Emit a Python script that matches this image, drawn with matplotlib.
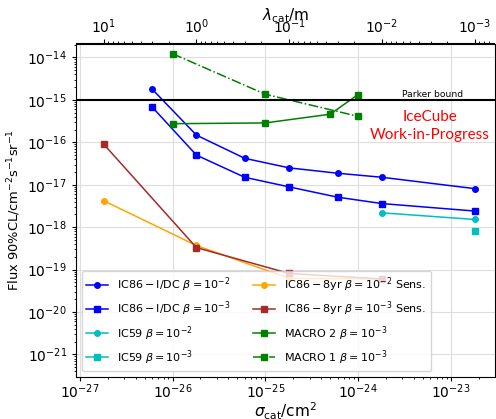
import numpy as np
import matplotlib
matplotlib.use("Agg")
import matplotlib.pyplot as plt
from matplotlib.ticker import LogLocator, NullFormatter

# cross sections (cm^2) of the points
sig_ic = [6.0e-27, 1.81e-26, 6.0e-26, 1.81e-25, 6.0e-25, 1.81e-24, 1.81e-23]
ic86_b2 = [1.82e-15, 1.48e-16, 4.2e-17, 2.5e-17, 1.87e-17, 1.5e-17, 8.1e-18]
ic86_b3 = [6.9e-16, 5.0e-17, 1.5e-17, 8.9e-18, 5.1e-18, 3.6e-18, 2.4e-18]

sig_ic59 = [1.81e-24, 1.81e-23]
ic59_b2 = [2.18e-18, 1.52e-18]
sig_ic59_b3 = [1.81e-23]
ic59_b3 = [8.1e-19]

sig_8yr = [1.81e-27, 1.81e-26, 1.81e-25, 1.81e-24]
sens_b2 = [4.2e-18, 3.7e-19, 6.2e-20, 6.0e-20]
sens_b3 = [9.1e-17, 3.3e-19, 8.1e-20, 6.0e-20]

sig_macro2 = [1e-26, 1e-25, 5e-25, 1e-24]
macro2 = [2.75e-16, 2.87e-16, 4.6e-16, 1.34e-15]
sig_macro1 = [1e-26, 1e-25, 1e-24]
macro1 = [1.23e-14, 1.36e-15, 4.1e-16]

parker = 1e-15
n_ice = 0.917 * 6.022e23  # nucleons / cm^3


def sig2lam(s):
    s = np.asarray(s, dtype=float)
    return 1.0 / (n_ice * s) / 100.0


def lam2sig(l):
    l = np.asarray(l, dtype=float)
    return 1.0 / (n_ice * l * 100.0)


fig = plt.figure(figsize=(4.96, 4.19), dpi=100)
ax = fig.add_axes([76/496, 1-376.5/419, (494.5-76)/496, (376.5-43.5)/419])

ax.plot(sig_ic, ic86_b2, 'o-', color='b', ms=4, lw=1.1, label=r'$\mathrm{IC86-I/DC}\ \beta=10^{-2}$')
ax.plot(sig_ic, ic86_b3, 's-', color='b', ms=4, lw=1.1, label=r'$\mathrm{IC86-I/DC}\ \beta=10^{-3}$')
ax.plot(sig_ic59, ic59_b2, 'o-', color='c', ms=4, lw=1.1, label=r'IC59 $\beta=10^{-2}$')
ax.plot(sig_ic59_b3, ic59_b3, 's-', color='c', ms=4, lw=1.1, label=r'IC59 $\beta=10^{-3}$')
ax.plot(sig_8yr, sens_b2, 'o-', color='orange', ms=4, lw=1.1, label=r'$\mathrm{IC86-8yr}\ \beta=10^{-2}$ Sens.')
ax.plot(sig_8yr, sens_b3, 's-', color='brown', ms=4, lw=1.1, label=r'$\mathrm{IC86-8yr}\ \beta=10^{-3}$ Sens.')
ax.plot(sig_macro2, macro2, 's-', color='g', ms=4, lw=1.1, label=r'MACRO 2 $\beta=10^{-3}$')
ax.plot(sig_macro1, macro1, 's-.', color='g', ms=4, lw=1.1, label=r'MACRO 1 $\beta=10^{-3}$')

ax.axhline(parker, color='k', lw=1.5)
ax.text(6.35e-24, 1.08e-15, 'Parker bound', fontsize=6.6, ha='center', va='bottom')
ax.text(5.9e-24, 2.45e-16, 'IceCube\nWork-in-Progress', color='red', fontsize=11,
        family='Lato', ha='center', va='center', linespacing=1.4)

ax.set_xscale('log')
ax.set_yscale('log')
ax.set_xlim(10**-27.04, 10**-22.53)
ax.set_ylim(10**-21.52, 10**-13.67)
ax.yaxis.set_major_locator(LogLocator(base=10, numticks=30))
ax.yaxis.set_minor_locator(LogLocator(base=10, subs=np.arange(2, 10), numticks=100))
ax.yaxis.set_minor_formatter(NullFormatter())
ax.grid(True, which='major', color='#dddddd', lw=0.8)
ax.tick_params(which='major', length=3, labelsize=10)
ax.tick_params(which='minor', length=1.5)
ax.tick_params(axis='x', pad=1)
ax.tick_params(axis='y', pad=3.5)
ax.set_xlabel(r'$\sigma_{\rm cat}$/cm$^2$', fontsize=11, labelpad=0)
ax.set_ylabel(r'Flux 90%CL/cm$^{-2}$s$^{-1}$sr$^{-1}$', fontsize=9.4, labelpad=3)

top = ax.secondary_xaxis('top', functions=(sig2lam, lam2sig))
top.tick_params(which='major', length=3, pad=2.5, labelsize=10)
top.tick_params(which='minor', length=1.5)
top.set_xlabel(r'$\lambda_{\rm cat}$/m', fontsize=11, labelpad=-2.5)

ax.legend(ncol=2, loc='lower left', fontsize=8.0, bbox_to_anchor=(0.0136, 0.016),
          borderaxespad=0)

fig.savefig('out.png', dpi=100)
